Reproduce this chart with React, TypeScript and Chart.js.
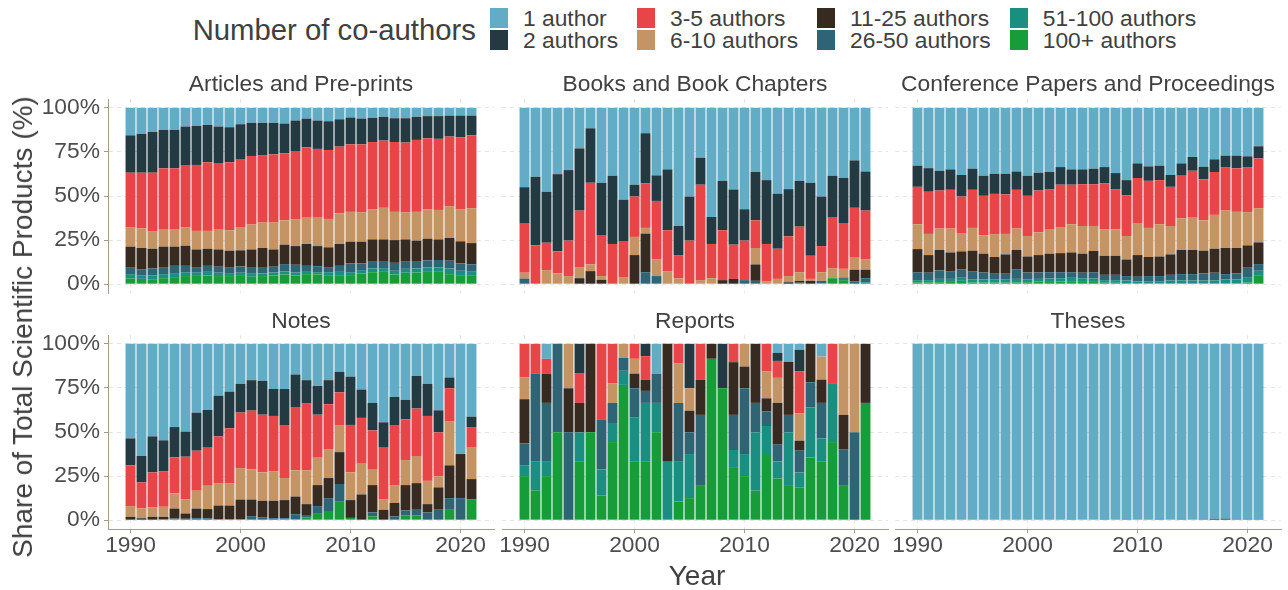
import React, { useEffect, useRef } from "react";
import { Chart, registerables } from "chart.js";

Chart.register(...registerables);

// ---------- categories ----------
const years = [
  1990, 1991, 1992, 1993, 1994, 1995, 1996, 1997, 1998, 1999, 2000, 2001, 2002, 2003, 2004, 2005,
  2006, 2007, 2008, 2009, 2010, 2011, 2012, 2013, 2014, 2015, 2016, 2017, 2018, 2019, 2020, 2021,
];
const xTickYears = [1990, 2000, 2010, 2020];
const yTickValues = [0, 25, 50, 75, 100];

// stacking order bottom -> top
const groupLabels = [
  "100+ authors", "51-100 authors", "26-50 authors", "11-25 authors",
  "6-10 authors", "3-5 authors", "2 authors", "1 author",
];
const groupColors = [
  "#169C38", "#1A8E80", "#2F6475", "#362A21",
  "#C49464", "#E84549", "#233A43", "#63ACC5",
];
// legend order (column-major, 2 rows)
const legendOrder = [7, 6, 5, 4, 3, 2, 1, 0];

// ---------- values: share (%) of products with at least N co-authors ----------
// Articles and Pre-prints
const articlesAtLeast100 = [3.2,3.0,2.8,3.4,4.0,4.6,4.7,4.9,4.6,4.6,4.7,4.2,4.6,4.9,5.5,4.9,5.7,5.5,5.1,5.1,4.7,6.1,6.8,7.0,5.5,6.5,6.6,7.4,7.0,5.7,5.1,5.1];
const articlesAtLeast51 = [5.7,5.1,4.9,5.7,6.3,6.8,6.5,7.0,6.5,6.3,6.5,5.9,6.1,6.6,7.2,6.6,7.0,6.8,6.8,7.0,6.8,8.0,8.9,9.1,7.6,8.7,8.9,9.5,9.5,8.9,7.6,7.4];
const articlesAtLeast26 = [9.7,8.5,8.9,9.7,10.4,10.4,9.7,10.4,9.9,9.7,10.1,9.3,9.3,9.9,11.4,11.0,10.4,10.2,9.7,10.4,11.8,11.8,12.7,12.7,12.1,13.1,12.7,13.5,13.7,13.3,11.8,11.2];
const articlesAtLeast11 = [21.3,20.5,20.1,21.3,21.3,21.8,19.7,20.1,19.7,19.0,19.2,19.7,20.5,19.7,22.4,21.6,22.8,21.6,20.9,22.8,24.1,24.1,25.4,25.4,25.0,25.4,24.7,25.8,25.4,26.2,24.3,23.3];
const articlesAtLeast6 = [32.1,31.7,29.8,31.3,30.9,32.1,30.2,30.2,31.3,30.6,32.4,33.8,34.9,34.9,36.2,36.6,38.1,38.1,37.0,40.2,41.0,40.6,42.5,43.3,41.0,40.6,41.0,42.5,42.1,44.0,42.3,43.1];
const articlesAtLeast3 = [63.2,63.2,63.2,65.7,65.7,67.2,67.6,69.1,68.7,69.1,70.6,72.7,73.2,73.6,74.2,75.5,77.6,76.7,76.1,78.0,79.3,79.3,80.6,81.4,80.6,80.3,81.8,82.7,82.4,83.7,83.3,84.4];
const articlesAtLeast2 = [84.4,85.2,86.3,87.5,87.5,89.4,89.7,90.3,89.4,89.0,90.7,91.5,91.5,91.5,91.1,92.8,93.9,92.8,92.4,93.5,94.5,93.9,94.3,94.9,94.1,94.1,94.9,95.3,95.3,95.6,95.6,95.6];

// Books and Book Chapters
const booksAtLeast100 = [0,0,0,0,0,0,0,0,0,0,0,0,0,0,0,0,0,0,0,0,0,0,0,0,0,0.8,0,0.5,3.4,2.3,0,0];
const booksAtLeast51 = [0,0,0,0,0,0,0,0,0,0,0,0,0,0,0,0,0,0,0,0,0,0,0,0,0,0.8,0,0.5,3.4,3.0,0,1.1];
const booksAtLeast26 = [3.2,0,0,0,0,0,0,0,0,0,0,6.8,4.6,0,0,0,0,0,0,0,2.3,1.9,0,0,0,0.8,0,1.9,3.4,3.8,1.5,3.4];
const booksAtLeast11 = [3.2,0,0,0,0,3.4,7.4,2.5,0,0,16.5,28.7,4.6,0,0,0,0,0,2.3,3.0,2.3,11.2,0,0,1.1,1.9,1.9,1.9,3.4,3.8,8.2,8.2];
const booksAtLeast6 = [6.5,0,8.0,6.1,4.6,9.7,11.2,4.6,0,4.0,26.8,31.9,14.2,7.4,3.2,0,2.3,3.4,2.3,3.0,2.3,20.5,1.5,3.0,4.6,6.8,3.0,6.8,9.1,8.7,15.4,14.2];
const booksAtLeast3 = [34.3,22.0,23.5,18.6,24.7,41.7,57.5,27.5,22.8,24.1,49.7,57.1,47.2,30.6,16.5,24.7,56.4,22.8,30.6,22.4,24.7,36.2,22.8,20.1,27.1,32.6,16.1,21.6,38.1,34.7,43.3,41.7];
const booksAtLeast2 = [55.0,60.9,52.4,62.4,64.7,77.0,88.4,57.5,61.5,47.8,56.4,85.6,61.7,65.1,33.0,49.7,71.7,38.1,58.6,53.7,42.5,63.6,59.0,51.2,53.9,58.6,57.5,49.7,61.5,60.3,70.2,63.9];

// Conference Papers and Proceedings
const conferenceAtLeast100 = [0.9,0.9,1.1,1.3,1.9,0.9,0.9,0.9,0.9,0.9,1.1,1.5,1.3,1.5,1.7,1.3,1.3,0.8,0.8,0.6,0.6,0.6,0.6,0.6,0.6,0.6,0.6,0.6,0.6,0.6,0.9,5.1];
const conferenceAtLeast51 = [2.3,2.3,3.0,3.0,4.0,2.8,2.7,2.8,2.8,3.0,2.8,3.0,3.2,3.4,3.6,3.4,3.2,2.3,2.3,2.1,1.5,1.7,1.7,2.1,2.1,2.1,2.1,2.1,2.7,2.7,4.0,7.6];
const conferenceAtLeast26 = [6.8,6.5,7.8,7.4,8.5,7.4,6.6,6.3,6.3,8.5,6.6,6.6,6.8,6.8,6.8,6.5,6.8,5.3,5.3,4.6,4.2,4.6,4.6,5.3,5.7,5.7,6.1,6.5,5.7,6.1,9.7,11.4];
const conferenceAtLeast11 = [19.9,16.5,19.4,18.0,18.6,19.0,17.3,15.4,16.9,19.4,15.7,16.5,17.3,17.6,18.0,17.3,18.8,16.1,16.1,14.0,16.5,15.4,15.7,16.9,19.4,19.4,19.0,20.1,20.5,20.5,22.0,23.7];
const conferenceAtLeast6 = [34.0,28.5,31.5,31.5,29.0,31.9,27.7,28.1,28.5,31.5,27.3,29.4,31.3,32.4,34.0,33.0,33.0,31.1,31.1,27.3,34.7,31.9,34.0,33.0,37.4,38.1,36.2,39.3,41.7,41.0,40.6,43.1];
const conferenceAtLeast3 = [55.2,52.4,53.1,53.5,49.7,53.5,50.1,51.2,50.9,53.5,50.1,53.1,53.9,56.4,56.4,56.7,56.7,57.1,53.9,50.3,60.2,58.6,59.0,55.2,61.5,64.3,59.4,63.6,66.4,65.7,66.4,71.3];
const conferenceAtLeast2 = [67.2,65.8,64.3,65.1,61.9,65.5,61.5,62.6,62.6,63.9,61.5,63.2,63.6,66.4,65.1,65.1,65.5,66.4,63.0,59.0,68.5,66.8,67.2,61.9,68.5,72.1,66.6,70.8,72.9,72.9,72.5,78.2];

// Notes
const notesAtLeast100 = [0,0,0,0,0.4,0,0,0,0,0,0,0,0,0,0.4,0.4,1.5,3.6,4.7,10.8,1.3,0,2.1,0,0,2.8,2.8,0,0,6.3,0,11.7];
const notesAtLeast51 = [0,0,0,0,0.4,0,0,0,0,0,0,0,0,0,0.4,0.4,1.5,3.6,4.7,10.8,1.3,0,2.1,0,0,2.8,2.8,0,0,6.3,0,11.7];
const notesAtLeast26 = [0,0,0,0.4,0.9,0.8,1.1,1.1,0.6,0.6,0.6,2.3,1.7,1.1,1.1,3.4,2.5,8.0,12.5,20.5,1.3,0,4.4,0,2.1,5.5,5.9,4.4,6.3,12.5,12.5,11.7];
const notesAtLeast11 = [1.9,1.1,1.9,1.9,6.6,3.8,6.6,6.3,8.3,8.3,11.7,11.7,11.0,11.0,11.4,13.4,9.1,19.9,23.9,38.6,11.4,14.6,19.9,5.9,9.8,19.9,21.0,9.1,18.6,31.1,37.5,23.3];
const notesAtLeast6 = [8.0,6.6,7.2,7.6,15.2,11.9,16.7,19.5,21.0,21.0,29.5,28.8,27.1,27.8,23.9,28.2,28.2,35.4,40.0,53.6,27.1,32.0,28.6,11.7,19.9,34.1,36.4,22.3,24.8,55.9,37.5,41.1];
const notesAtLeast3 = [31.1,21.4,27.1,27.8,35.6,36.0,39.4,41.1,47.5,52.1,61.0,62.1,59.8,59.1,53.6,63.8,66.1,59.8,65.7,72.5,54.0,58.0,50.9,41.1,53.6,57.2,63.3,59.1,49.8,74.8,37.5,52.8];
const notesAtLeast2 = [46.4,36.4,47.5,45.3,52.8,50.2,61.0,62.5,70.6,72.9,77.3,79.4,79.0,74.4,74.4,82.6,79.4,76.1,79.4,84.1,81.4,74.1,66.5,55.5,69.9,68.2,81.8,77.3,62.3,80.9,37.5,58.7];

// Reports
const reportsAtLeast100 = [25.0,16.7,25.0,49.8,0,33.1,49.8,14.0,44.3,76.7,33.1,33.1,49.8,0,10.6,12.5,19.9,91.5,74.8,30.1,25.0,16.7,38.1,23.7,19.9,18.4,35.6,33.1,44.3,19.9,0,66.5];
const reportsAtLeast51 = [30.9,33.1,33.1,49.8,0,49.8,49.8,28.8,55.1,84.7,58.1,66.5,66.5,33.1,33.1,37.5,19.9,91.5,74.8,39.8,37.5,49.8,53.4,33.3,49.8,27.1,64.0,46.4,77.7,19.9,0,66.5];
const reportsAtLeast26 = [43.6,83.1,66.5,100,49.8,49.8,49.8,57.2,66.5,92.0,74.8,73.3,83.1,33.1,66.5,49.8,59.7,91.5,74.8,59.7,74.8,66.5,61.6,42.8,59.7,39.4,78.2,66.5,77.7,40.0,49.8,66.5];
const reportsAtLeast11 = [68.6,83.1,83.1,100,74.8,66.5,100,57.2,66.5,92.0,83.1,79.7,83.1,100,66.5,62.1,79.7,100,74.8,89.6,87.1,100,69.1,66.5,89.8,45.1,100,79.7,77.7,59.7,49.8,100];
const reportsAtLeast6 = [81.1,83.1,83.1,100,100,66.5,100,57.2,77.7,100,91.5,79.7,83.1,100,88.8,74.8,79.7,100,74.8,89.6,100,100,84.5,80.7,89.8,60.6,100,92.8,77.7,100,100,100];
const reportsAtLeast3 = [100,100,91.5,100,100,83.1,100,100,100,100,100,93.0,83.1,100,100,74.8,100,100,74.8,100,100,100,100,90.3,89.8,84.5,100,92.8,100,100,100,100];
const reportsAtLeast2 = [100,100,91.5,100,100,100,100,100,100,100,100,100,83.1,100,100,100,100,100,100,100,100,100,100,94.9,89.8,96.6,100,92.8,100,100,100,100];

// Theses
const thesesAtLeast100 = [0,0,0,0,0,0,0,0,0,0,0,0,0,0,0,0,0,0,0,0,0,0,0,0,0,0,0,0,0,0,0,0];
const thesesAtLeast51 = [0,0,0,0,0,0,0,0,0,0,0,0,0,0,0,0,0,0,0,0,0,0,0,0,0,0,0,0,0,0,0,0];
const thesesAtLeast26 = [0,0,0,0,0,0,0,0,0,0,0,0,0,0,0,0,0,0,0,0,0,0,0,0,0,0,0,0,0,0,0,0];
const thesesAtLeast11 = [0,0,0,0,0,0,0,0,0,0,0,0,0,0,0,0,0,0,0,0,0,0,0,0,0,0,0,0,0,0,0,0];
const thesesAtLeast6 = [0,0,0,0,0,0,0,0,0,0,0,0,0,0,0,0,0,0,0,0,0,0,0,0,0,0,0,0,0,0,0,0];
const thesesAtLeast3 = [0,0,0,0,0,0,0,0,0,0,0,0,0,0,0,0,0,0,0,0.7,0,0,0.7,0,0.7,0,0.7,0,0,0.7,0.7,0];
const thesesAtLeast2 = [0,0,0,0,0,0,0,0,0,0,0,0,0,0,0.5,0,0,0.5,0,0.7,0,0,0.7,0,0.7,0,0.7,0.8,0.9,0.7,0.7,0.5];

const panelTitles = [
  "Articles and Pre-prints", "Books and Book Chapters", "Conference Papers and Proceedings",
  "Notes", "Reports", "Theses",
];
const panelLevels = [
  [articlesAtLeast100, articlesAtLeast51, articlesAtLeast26, articlesAtLeast11, articlesAtLeast6, articlesAtLeast3, articlesAtLeast2],
  [booksAtLeast100, booksAtLeast51, booksAtLeast26, booksAtLeast11, booksAtLeast6, booksAtLeast3, booksAtLeast2],
  [conferenceAtLeast100, conferenceAtLeast51, conferenceAtLeast26, conferenceAtLeast11, conferenceAtLeast6, conferenceAtLeast3, conferenceAtLeast2],
  [notesAtLeast100, notesAtLeast51, notesAtLeast26, notesAtLeast11, notesAtLeast6, notesAtLeast3, notesAtLeast2],
  [reportsAtLeast100, reportsAtLeast51, reportsAtLeast26, reportsAtLeast11, reportsAtLeast6, reportsAtLeast3, reportsAtLeast2],
  [thesesAtLeast100, thesesAtLeast51, thesesAtLeast26, thesesAtLeast11, thesesAtLeast6, thesesAtLeast3, thesesAtLeast2],
];

// ---------- layout / style ----------
const FONT = '"Liberation Sans", Arial, Helvetica, sans-serif';
const TICK_COLOR = "#4D4D4D";
const TITLE_COLOR = "#404040";
const AXIS_COLOR = "#A79B8E";
const GRID_COLOR = "#E4E4E4";
const PANEL_LEFT = [108, 502, 895];
const PANEL_TOP = [99, 335];
const PANEL_W = 386;
const PANEL_H = 194;
const X_MIN = 1987.955;
const X_MAX = 2023.045;
const SMALL_SIZE = 22.8;
const BIG_SIZE = 28;

function segmentShares(levels: number[][]): number[][] {
  const out: number[][] = [];
  for (let k = 0; k <= levels.length; k++) {
    out.push(
      years.map((_, i) => {
        const hi = k < levels.length ? levels[k][i] : 100;
        const lo = k > 0 ? levels[k - 1][i] : 0;
        return Math.max(0, hi - lo);
      })
    );
  }
  return out;
}

function Panel({ idx }: { idx: number }) {
  const ref = useRef<HTMLCanvasElement | null>(null);
  const col = idx % 3;
  const row = Math.floor(idx / 3);
  const ML = col === 0 ? PANEL_LEFT[0] : 10;
  const MT = 16;
  const MB = row === 1 ? 60 : 16;
  const MR = 4;
  const cw = ML + PANEL_W + MR;
  const ch = MT + PANEL_H + MB;
  const left = PANEL_LEFT[col] - ML;
  const top = PANEL_TOP[row] - MT;

  useEffect(() => {
    if (!ref.current) return;
    const segs = segmentShares(panelLevels[idx]);
    const tickFont = { family: FONT, size: SMALL_SIZE, lineHeight: 1 };
    const chart = new Chart(ref.current, {
      type: "bar",
      data: {
        datasets: segs.map((s, k) => ({
          label: groupLabels[k],
          data: years.map((y, i) => ({ x: y, y: s[i] })),
          backgroundColor: groupColors[k],
          borderWidth: 0,
          barPercentage: 0.9,
          categoryPercentage: 1,
        })),
      },
      options: {
        responsive: false,
        animation: false,
        events: [],
        layout: {
          padding: {
            left: col === 0 ? 0 : ML,
            top: MT,
            right: MR,
            bottom: row === 1 ? 0 : MB,
          },
        },
        plugins: {
          legend: { display: false },
          tooltip: { enabled: false },
          title: { display: false },
        },
        scales: {
          x: {
            type: "linear",
            stacked: true,
            offset: false,
            min: X_MIN,
            max: X_MAX,
            afterBuildTicks: (s: any) => {
              s.ticks = xTickYears.map((v) => ({ value: v }));
            },
            afterFit: (s: any) => {
              s.height = row === 1 ? MB : 0;
            },
            ticks: {
              display: row === 1,
              autoSkip: false,
              maxRotation: 0,
              color: TICK_COLOR,
              font: tickFont,
              padding: 1,
              callback: (v: any) => String(v),
            },
            grid: {
              offset: false,
              color: GRID_COLOR,
              lineWidth: 1,
              drawTicks: row === 1,
              tickLength: 4,
              tickColor: AXIS_COLOR,
              tickWidth: 1,
            },
            border: { display: row === 1, color: AXIS_COLOR, width: 1, dash: [4, 4] },
          },
          y: {
            type: "linear",
            stacked: true,
            min: -5,
            max: 105,
            afterBuildTicks: (s: any) => {
              s.ticks = yTickValues.map((v) => ({ value: v }));
            },
            afterFit: (s: any) => {
              s.width = col === 0 ? ML : 0;
            },
            ticks: {
              display: col === 0,
              color: TICK_COLOR,
              font: tickFont,
              padding: 4,
              callback: (v: any) => `${v}%`,
            },
            grid: {
              color: GRID_COLOR,
              lineWidth: 1,
              drawTicks: col === 0,
              tickLength: 4,
              tickColor: AXIS_COLOR,
              tickWidth: 1,
            },
            border: { display: col === 0, color: AXIS_COLOR, width: 1, dash: [4, 4] },
          },
        },
      } as any,
    });
    return () => chart.destroy();
  }, [idx]);

  return (
    <canvas
      ref={ref}
      width={cw}
      height={ch}
      style={{ position: "absolute", left, top, width: cw, height: ch }}
    />
  );
}

export default function App() {
  return (
    <div
      style={{
        position: "relative",
        width: 1288,
        height: 590,
        overflow: "hidden",
        background: "#FFFFFF",
        fontFamily: FONT,
      }}
    >
      <style>{`body{margin:0;background:#fff;}`}</style>
      {[0, 1, 2, 3, 4, 5].map((i) => (
        <Panel key={i} idx={i} />
      ))}

      {/* strip titles */}
      {panelTitles.map((t, i) => {
        const col = i % 3;
        const row = Math.floor(i / 3);
        const cy = row === 0 ? 83 : 320;
        return (
          <div
            key={t}
            style={{
              position: "absolute",
              left: PANEL_LEFT[col] - 10,
              width: PANEL_W + 20,
              top: cy - 13,
              height: 26,
              lineHeight: "26px",
              textAlign: "center",
              fontSize: SMALL_SIZE,
              color: TITLE_COLOR,
              whiteSpace: "nowrap",
            }}
          >
            {t}
          </div>
        );
      })}

      {/* axis titles */}
      <div
        style={{
          position: "absolute",
          left: 23,
          top: 327,
          transform: "translate(-50%, -50%) rotate(-90deg)",
          fontSize: BIG_SIZE,
          lineHeight: "32px",
          color: TITLE_COLOR,
          whiteSpace: "nowrap",
        }}
      >
        Share of Total Scientific Products (%)
      </div>
      <div
        style={{
          position: "absolute",
          left: 697,
          top: 576,
          transform: "translate(-50%, -50%)",
          fontSize: BIG_SIZE,
          lineHeight: "32px",
          color: TITLE_COLOR,
          whiteSpace: "nowrap",
        }}
      >
        Year
      </div>

      {/* legend */}
      <div
        style={{
          position: "absolute",
          right: 1288 - 476,
          top: 13,
          height: 34,
          lineHeight: "34px",
          fontSize: 29.3,
          color: TITLE_COLOR,
          whiteSpace: "nowrap",
        }}
      >
        Number of co-authors
      </div>
      <div
        style={{
          position: "absolute",
          left: 490,
          top: 7,
          display: "grid",
          gridTemplateRows: "22px 22px",
          gridAutoFlow: "column",
          columnGap: 19,
        }}
      >
        {legendOrder.map((k) => (
          <div key={k} style={{ display: "flex", alignItems: "center", height: 22 }}>
            <div style={{ width: 18, height: 20.5, background: groupColors[k], marginRight: 15 }} />
            <span style={{ fontSize: SMALL_SIZE, lineHeight: "22px", color: TITLE_COLOR, whiteSpace: "nowrap" }}>
              {groupLabels[k]}
            </span>
          </div>
        ))}
      </div>
    </div>
  );
}
